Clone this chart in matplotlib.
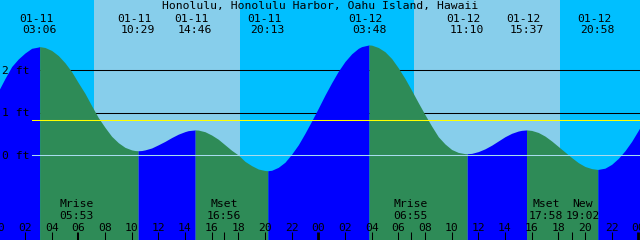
import matplotlib
matplotlib.use("Agg")
import matplotlib.pyplot as plt
import matplotlib.transforms as mtransforms
import numpy as np

# ── Colours ───────────────────────────────────────────────────────────────────
NIGHT_COLOR = "#00bfff"
DAY_COLOR   = "#87ceeb"
FLOOD_COLOR = "#0000ff"     # rising tide
EBB_COLOR   = "#2e8b57"     # falling tide
DATUM_COLOR = "#a8dcef"
MSL_COLOR   = "#ffff00"
FONT = dict(family="DejaVu Sans Mono", fontsize=8.2, color="black")

# ── Geometry (pixels of the 640x240 image) ────────────────────────────────────
W_PX, H_PX = 640, 240
FT_PX   = 42.5      # pixels per foot
ZERO_PX = 155       # pixel row of 0 ft
T_LEFT  = 0.1275    # hours since 01-11 00:00 at left edge
SPAN_H  = 48.0
LINE_X0_PX = 32     # height lines start here

TITLE = "Honolulu, Honolulu Harbor, Oahu Island, Hawaii"

# ── Data ──────────────────────────────────────────────────────────────────────
# water level, hours since 01-11 00:00 -> feet
tide_hours = [0, 0.5, 1, 1.5, 2, 2.5, 3, 3.10, 3.5, 4, 4.5, 5, 5.5, 6, 6.5, 7,
              7.5, 8, 8.5, 9, 9.5, 10, 10.25, 10.483, 10.75, 11, 11.5, 12, 12.5,
              13, 13.5, 14, 14.25, 14.767, 15, 15.5, 16, 16.5, 17, 17.5, 18,
              18.5, 19, 19.5, 20, 20.217, 20.5, 21, 21.5, 22, 22.5, 23, 23.5,
              24, 24.5, 25, 25.5, 26, 26.5, 27, 27.25, 27.80, 28, 28.5, 29,
              29.5, 30, 30.5, 31, 31.5, 32, 32.5, 33, 33.5, 34, 34.5, 35,
              35.167, 35.5, 36, 36.5, 37, 37.5, 38, 38.5, 39, 39.25, 39.617,
              40, 40.5, 41, 41.5, 42, 42.5, 43, 43.5, 44, 44.5, 44.967, 45.5,
              46, 46.5, 47, 47.5, 48, 48.5]
tide_ft = [1.50, 1.80, 2.08, 2.26, 2.40, 2.51, 2.54, 2.55, 2.53, 2.46, 2.34,
           2.17, 1.96, 1.70, 1.45, 1.16, 0.88, 0.65, 0.44, 0.29, 0.18, 0.12,
           0.105, 0.10, 0.105, 0.12, 0.165, 0.24, 0.32, 0.41, 0.49, 0.55,
           0.573, 0.59, 0.586, 0.548, 0.47, 0.37, 0.24, 0.11, 0.00, -0.15,
           -0.25, -0.33, -0.365, -0.37, -0.36, -0.29, -0.17, 0.02, 0.24, 0.51,
           0.80, 1.10, 1.41, 1.70, 1.97, 2.20, 2.38, 2.51, 2.55, 2.59, 2.585,
           2.53, 2.43, 2.27, 2.05, 1.80, 1.52, 1.23, 0.95, 0.68, 0.43, 0.26,
           0.13, 0.06, 0.032, 0.03, 0.038, 0.08, 0.145, 0.23, 0.33, 0.43, 0.51,
           0.564, 0.58, 0.59, 0.578, 0.53, 0.445, 0.33, 0.20, 0.07, -0.06,
           -0.18, -0.27, -0.32, -0.34, -0.31, -0.22, -0.08, 0.10, 0.32, 0.58,
           0.855]

extreme_stamps = ["01-11 03:06", "01-11 10:29", "01-11 14:46", "01-11 20:13",
                  "01-12 03:48", "01-12 11:10", "01-12 15:37", "01-12 20:58"]

sunrise_stamps = ["01-11 07:11", "01-12 07:11"]
sunset_stamps  = ["01-11 18:08", "01-12 18:08"]

moon_names  = ["Mrise", "Mset", "Mrise", "Mset", "New"]
moon_stamps = ["01-11 05:53", "01-11 16:56", "01-12 06:55", "01-12 17:58", "01-12 19:02"]
moon_shift_px = [0, 0, 0, -12, 10.5]   # labels nudged apart where they collide

height_marks = [2, 1]      # black lines behind the water
datum_ft = 0
msl_ft = 0.82


def to_hours(stamp):
    day = int(stamp[3:5]) - 11
    hh, mm = stamp[6:].split(":")
    return day * 24 + int(hh) + int(mm) / 60.0


def px_h(px):
    """horizontal pixel offset -> hours"""
    return px * SPAN_H / W_PX


def row(py):
    """pixel row -> axes fraction"""
    return 1 - py / H_PX


# ── Figure ────────────────────────────────────────────────────────────────────
fig = plt.figure(figsize=(W_PX / 100, H_PX / 100), dpi=100)
fig.patch.set_facecolor(NIGHT_COLOR)
ax = fig.add_axes([0, 0, 1, 1])
ax.set_axis_off()
y_bottom = (ZERO_PX - H_PX) / FT_PX
ax.set_xlim(T_LEFT, T_LEFT + SPAN_H)
ax.set_ylim(y_bottom, ZERO_PX / FT_PX)
blend = mtransforms.blended_transform_factory(ax.transData, ax.transAxes)

# daylight
for rise, sset in zip(sunrise_stamps, sunset_stamps):
    ax.axvspan(to_hours(rise), to_hours(sset), color=DAY_COLOR, lw=0, zorder=0.5)

# height lines (behind water)
x0 = T_LEFT + px_h(LINE_X0_PX)
for ft in height_marks:
    ax.plot([x0, T_LEFT + SPAN_H], [ft, ft], color="black", lw=0.75, zorder=1)

# water: blue while rising, green while falling
t = np.array(tide_hours)
h = np.array(tide_ft)
rising = np.diff(h) > 0
start = 0
for i in range(1, len(rising) + 1):
    if i == len(rising) or rising[i] != rising[start]:
        seg = slice(start, i + 1)
        ax.fill_between(t[seg], h[seg], y_bottom,
                        color=FLOOD_COLOR if rising[start] else EBB_COLOR,
                        lw=0, zorder=2)
        start = i

# datum and mean sea level (over water)
ax.plot([x0, T_LEFT + SPAN_H], [datum_ft, datum_ft], color=DATUM_COLOR, lw=0.75, zorder=3)
ax.plot([x0, T_LEFT + SPAN_H], [msl_ft, msl_ft], color=MSL_COLOR, lw=0.75, zorder=3)

# ── Text ──────────────────────────────────────────────────────────────────────
ax.text(T_LEFT + SPAN_H / 2, row(9.3), TITLE, transform=blend,
        ha="center", va="baseline", zorder=4, **FONT)

for stamp in extreme_stamps:
    th = to_hours(stamp)
    ax.text(th - px_h(3.5), row(21.7), stamp[:5], transform=blend,
            ha="center", va="baseline", zorder=4, **FONT)
    ax.text(th, row(33.3), stamp[6:], transform=blend,
            ha="center", va="baseline", zorder=4, **FONT)

for ft in [2, 1, 0]:
    ax.text(T_LEFT + px_h(1.5), ft - 4 / FT_PX, f"{ft} ft",
            ha="left", va="baseline", zorder=4, **FONT)

for name, stamp, shift in zip(moon_names, moon_stamps, moon_shift_px):
    th = to_hours(stamp)
    ax.text(th + px_h(shift), row(207.3), name, transform=blend,
            ha="center", va="baseline", zorder=4, **FONT)
    ax.text(th + px_h(shift), row(219), stamp[6:], transform=blend,
            ha="center", va="baseline", zorder=4, **FONT)
    ax.vlines(th, 0, row(232), transform=blend, color="black", lw=0.75, zorder=4)

# hour ticks along the bottom
for hr in range(0, 49, 2):
    ax.text(hr, row(231), f"{hr % 24:02d}", transform=blend,
            ha="center", va="baseline", zorder=4, **FONT)
    ax.vlines(hr, 0, row(232), transform=blend, color="black",
              lw=2.0 if hr % 24 == 0 else 0.75, zorder=4)

fig.savefig("out.png", dpi=100, facecolor=NIGHT_COLOR)
